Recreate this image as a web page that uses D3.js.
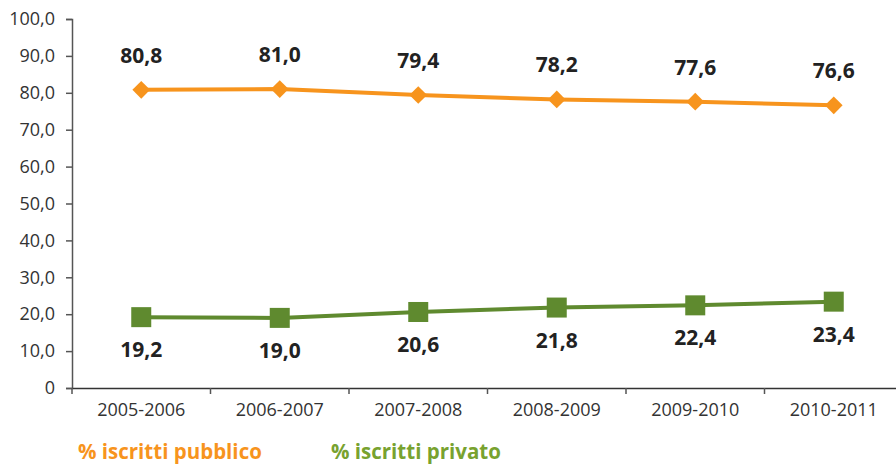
<html>
  <head>
    <script src="https://d3js.org/d3.v7.min.js"></script>
    <style>
      body { margin: 0; background: #fff; }
      text { font-family: "Open Sans", sans-serif; }
    </style>
  </head>
  <body>
    <div id="vis"></div>
  </body>
  <script>
    // data
    var years = ["2005-2006", "2006-2007", "2007-2008", "2008-2009", "2009-2010", "2010-2011"]
    var pubblico = [80.8, 81.0, 79.4, 78.2, 77.6, 76.6]
    var privato = [19.2, 19.0, 20.6, 21.8, 22.4, 23.4]
    var yTicks = [0, 10, 20, 30, 40, 50, 60, 70, 80, 90, 100]
    var seriesNames = ["% iscritti pubblico", "% iscritti privato"]

    var width = 896
    var height = 466
    var margin = {top: 19, right: -7, bottom: 78, left: 72}

    var orange = "#f7941d"
    var green = "#5f8a2f"

    var fmt = function(v) { return v === 0 ? "0" : v.toFixed(1).replace(".", ",") }

    var svg = d3.select("#vis")
      .append("svg")
      .attr("width", width)
      .attr("height", height)

    var x = d3.scaleBand()
      .domain(years)
      .range([margin.left, width - margin.right])

    var y = d3.scaleLinear()
      .domain([0, 100])
      .range([height - margin.bottom, margin.top])

    // y axis
    var yAxis = svg.append("g")
      .attr("transform", "translate(" + margin.left + ",0)")
      .call(d3.axisLeft(y).tickValues(yTicks).tickFormat(fmt).tickSize(6).tickPadding(11))
    yAxis.select(".domain").attr("stroke", "#555").attr("stroke-width", 1.5)
    yAxis.selectAll(".tick line").attr("stroke", "#555").attr("stroke-width", 1.5)
    yAxis.selectAll("text").attr("fill", "#333").style("font-size", "18px")

    // x axis
    var xAxis = svg.append("g")
      .attr("transform", "translate(0," + y(0) + ")")
      .call(d3.axisBottom(x).tickSize(0).tickPadding(15))
    xAxis.select(".domain").attr("stroke", "#333").attr("stroke-width", 1.5)
    xAxis.selectAll("text").attr("fill", "#333").style("font-size", "18px")

    // category boundary ticks
    svg.append("g")
      .selectAll("line")
      .data(years)
      .enter()
      .append("line")
      .attr("x1", function(d) { return x(d) })
      .attr("x2", function(d) { return x(d) })
      .attr("y1", y(0))
      .attr("y2", y(0) + 6)
      .attr("stroke", "#555")
      .attr("stroke-width", 1.5)

    var cx = function(i) { return x(years[i]) + x.bandwidth() / 2 }

    var line = d3.line()
      .x(function(d, i) { return cx(i) })
      .y(function(d) { return y(d) })

    // orange series
    svg.append("path")
      .datum(pubblico)
      .attr("d", line)
      .attr("fill", "none")
      .attr("stroke", orange)
      .attr("stroke-width", 4)

    svg.selectAll(".diamond")
      .data(pubblico)
      .enter()
      .append("path")
      .attr("class", "diamond")
      .attr("d", d3.symbol().type(d3.symbolDiamond2).size(200))
      .attr("transform", function(d, i) { return "translate(" + cx(i) + "," + y(d) + ")" })
      .attr("fill", orange)

    svg.selectAll(".lblPub")
      .data(pubblico)
      .enter()
      .append("text")
      .attr("class", "lblPub")
      .attr("x", function(d, i) { return cx(i) })
      .attr("y", function(d) { return y(d) - 27 })
      .attr("text-anchor", "middle")
      .attr("fill", "#222")
      .style("font-size", "21px")
      .style("font-weight", "bold")
      .text(fmt)

    // green series
    svg.append("path")
      .datum(privato)
      .attr("d", line)
      .attr("fill", "none")
      .attr("stroke", green)
      .attr("stroke-width", 4)

    svg.selectAll(".square")
      .data(privato)
      .enter()
      .append("rect")
      .attr("class", "square")
      .attr("x", function(d, i) { return cx(i) - 10 })
      .attr("y", function(d) { return y(d) - 10 })
      .attr("width", 20)
      .attr("height", 20)
      .attr("fill", green)

    svg.selectAll(".lblPriv")
      .data(privato)
      .enter()
      .append("text")
      .attr("class", "lblPriv")
      .attr("x", function(d, i) { return cx(i) })
      .attr("y", function(d) { return y(d) + 40 })
      .attr("text-anchor", "middle")
      .attr("fill", "#222")
      .style("font-size", "21px")
      .style("font-weight", "bold")
      .text(fmt)

    // legend
    var legendX = [78, 331]
    var legendColors = [orange, "#78a22f"]
    svg.selectAll(".legend")
      .data(seriesNames)
      .enter()
      .append("text")
      .attr("class", "legend")
      .attr("x", function(d, i) { return legendX[i] })
      .attr("y", 459)
      .attr("fill", function(d, i) { return legendColors[i] })
      .style("font-size", "20.5px")
      .style("font-weight", "bold")
      .text(function(d) { return d })
  </script>
</html>
